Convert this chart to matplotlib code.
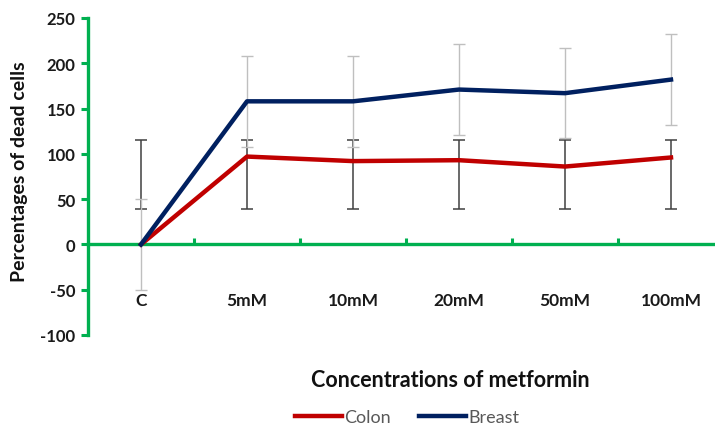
import matplotlib
matplotlib.use('Agg')
import matplotlib.pyplot as plt
import numpy as np

plt.rcParams['font.family'] = ['Lato', 'DejaVu Sans']
plt.rcParams['axes.unicode_minus'] = False

# Data
categories = ['C', '5mM', '10mM', '20mM', '50mM', '100mM']
colon = [0, 97, 92, 93, 86, 96]
breast = [0, 158, 158, 171, 167, 182]
colon_low = [39, 39, 39, 39, 39, 39]
colon_high = [115, 115, 115, 115, 115, 115]
breast_err = [50, 50, 50, 50, 50, 50]

green = '#00B050'
red = '#C00000'
navy = '#002060'

fig = plt.figure(figsize=(7.15, 4.27), dpi=100)
ax = fig.add_axes([88 / 715, 1 - 336 / 427, 636 / 715, 317 / 427])

x = np.arange(len(categories))

# error bars (colon bars are given as absolute low/high limits)
lo = np.array(colon_low)
hi = np.array(colon_high)
ax.errorbar(x, (lo + hi) / 2, yerr=(hi - lo) / 2,
            fmt='none', ecolor='#404040', elinewidth=1.1, capsize=4,
            capthick=1.1, zorder=2)
ax.errorbar(x, breast, yerr=breast_err, fmt='none', ecolor='#BFBFBF',
            elinewidth=1.0, capsize=4, capthick=1.0, zorder=2)

ax.plot(x, colon, color=red, lw=3.2, label='Colon', zorder=3,
        solid_joinstyle='round')
ax.plot(x, breast, color=navy, lw=3.2, label='Breast', zorder=4,
        solid_joinstyle='round')

ax.set_xlim(-0.5, 5.5)
ax.set_ylim(-100, 250)

# spines
for s in ['top', 'right']:
    ax.spines[s].set_visible(False)
ax.spines['left'].set_color(green)
ax.spines['left'].set_linewidth(2.4)
ax.spines['bottom'].set_color(green)
ax.spines['bottom'].set_linewidth(2.4)
ax.spines['bottom'].set_position(('data', 0))

ax.set_yticks(np.arange(-100, 251, 50))
ax.tick_params(axis='y', colors=green, length=5, width=2.2, direction='out',
               labelcolor='#1a1a1a', labelsize=12, pad=4)
for lab in ax.get_yticklabels():
    lab.set_fontweight('bold')

# category boundaries as major ticks, categories as minor labels
ax.set_xticks(np.arange(0.5, 5.5, 1))
ax.set_xticklabels([])
ax.tick_params(axis='x', which='major', colors=green, length=4, width=2.2,
               direction='in')
ax.set_xticks(x, minor=True)
ax.set_xticklabels(categories, minor=True)
ax.tick_params(axis='x', which='minor', length=0, pad=34,
               labelcolor='#1a1a1a', labelsize=12.5)
for lab in ax.get_xticklabels(minor=True):
    lab.set_fontweight('bold')

fig.text(20 / 715, 1 - 172 / 427, 'Percentages of dead cells', rotation=90,
         ha='center', va='center', fontsize=14, fontweight='bold',
         color='#111111')
fig.text(450 / 715, 1 - 381 / 427, 'Concentrations of metformin',
         ha='center', va='center', fontsize=15.5, fontweight='bold',
         color='#111111')

leg = fig.legend(loc='center', bbox_to_anchor=(407 / 715, 1 - 418 / 427),
                 ncol=2, frameon=False, fontsize=13, handlelength=2.6,
                 handletextpad=0.1, columnspacing=1.6)
for t in leg.get_texts():
    t.set_color('#595959')

fig.savefig('out.png', dpi=100)
